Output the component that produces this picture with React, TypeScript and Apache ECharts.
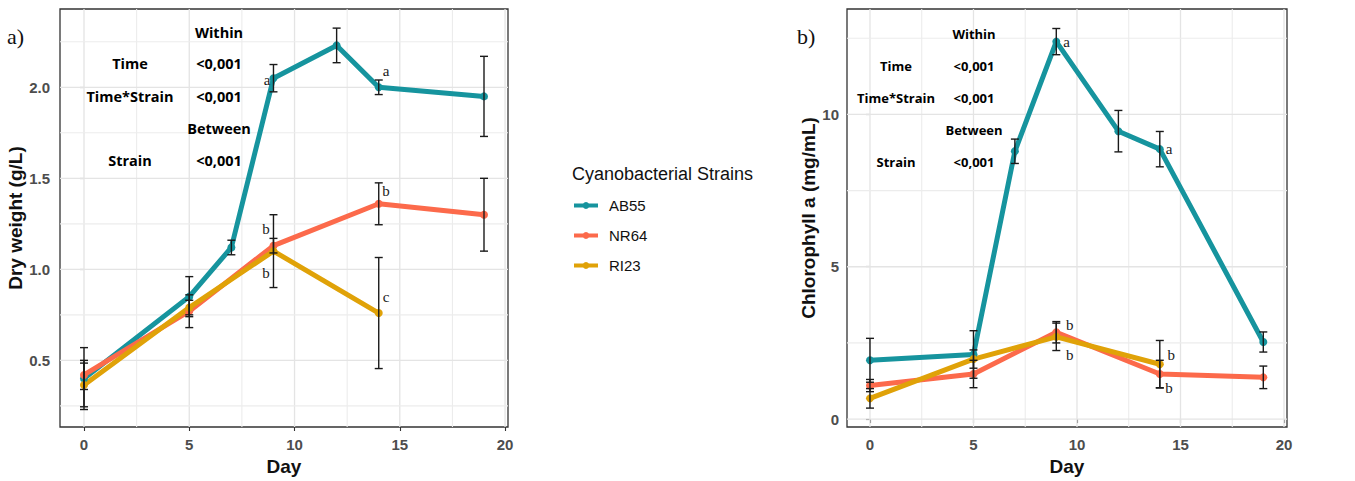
import React, { useEffect, useRef } from 'react';
import * as echarts from 'echarts';

const strainNames = ['AB55', 'NR64', 'RI23'];
const strainColors = ['#16949e', '#fc6a4b', '#e0a208'];

const daysAB55 = [0, 5, 7, 9, 12, 14, 19];
const daysNR64 = [0, 5, 9, 14, 19];
const daysRI23 = [0, 5, 9, 14];

// Panel a) Dry weight (g/L)
const dryAB55 = [0.4, 0.85, 1.12, 2.05, 2.23, 2.0, 1.95];
const dryAB55Err = [0.17, 0.11, 0.04, 0.075, 0.095, 0.04, 0.22];
const dryNR64 = [0.42, 0.77, 1.13, 1.36, 1.3];
const dryNR64Err = [0.08, 0.09, 0.04, 0.115, 0.2];
const dryRI23 = [0.365, 0.79, 1.1, 0.76];
const dryRI23Err = [0.12, 0.04, 0.2, 0.305];

// Panel b) Chlorophyll a (mg/mL)
const chlAB55 = [1.93, 2.12, 8.79, 12.39, 9.45, 8.86, 2.53];
const chlAB55Err = [0.72, 0.78, 0.4, 0.43, 0.68, 0.58, 0.33];
const chlNR64 = [1.1, 1.48, 2.85, 1.48, 1.37];
const chlNR64Err = [0.2, 0.45, 0.35, 0.45, 0.37];
const chlRI23 = [0.68, 1.97, 2.7, 1.8];
const chlRI23Err = [0.32, 0.3, 0.45, 0.78];

// Significance letters
const dryLetterDays = [8.7, 14.35, 14.35, 8.65, 8.65, 14.35];
const dryLetterValues = [2.04, 2.09, 1.43, 1.22, 0.98, 0.85];
const dryLetterTexts = ['a', 'a', 'b', 'b', 'b', 'c'];
const chlLetterDays = [9.5, 14.45, 9.65, 9.65, 14.55, 14.45];
const chlLetterValues = [12.39, 8.86, 3.1, 2.09, 2.09, 1.01];
const chlLetterTexts = ['a', 'a', 'b', 'b', 'b', 'b'];

// Ticks and grid lines
const xTickDays = [0, 5, 10, 15, 20];
const xMinorDays = [2.5, 7.5, 12.5, 17.5];
const dryTicks = [0.5, 1, 1.5, 2];
const dryMinor = [0.25, 0.75, 1.25, 1.75, 2.25];
const chlTicks = [0, 5, 10];
const chlMinor = [2.5, 7.5, 12.5];

// Statistics table
const statLabels = ['', 'Time', 'Time*Strain', '', 'Strain'];
const statValues = ['Within', '<0,001', '<0,001', 'Between', '<0,001'];

const panelTitles = ['a)', 'b)'];
const yTitles = ['Dry weight (g/L)', 'Chlorophyll a (mg/mL)'];
const legendTitle = 'Cyanobacterial Strains';

const SANS = '"Liberation Sans", Arial, sans-serif';
const LEGEND_ICON =
  'path://M0 1.5H9.13A3.5 3.5 0 0 1 14.87 1.5H24V5.5H14.87A3.5 3.5 0 0 1 9.13 5.5H0Z';

export default function App() {
  const ref = useRef<HTMLDivElement>(null);

  useEffect(() => {
    document.body.style.margin = '0';
    if (!ref.current) return;
    const chart = echarts.init(ref.current, undefined, { renderer: 'svg' });

    const panels = [
      {
        days: [daysAB55, daysNR64, daysRI23],
        vals: [dryAB55, dryNR64, dryRI23],
        errs: [dryAB55Err, dryNR64Err, dryRI23Err],
        lDays: dryLetterDays, lVals: dryLetterValues, lTexts: dryLetterTexts,
        yTicks: dryTicks, yMinor: dryMinor,
        xMin: -1.14, xMax: 20.14, yMin: 0.134, yMax: 2.43,
        fmt: (v: number) => v.toFixed(1),
        grid: { left: 60, top: 9, width: 448, height: 420 },
        nameGap: 32,
      },
      {
        days: [daysAB55, daysNR64, daysRI23],
        vals: [chlAB55, chlNR64, chlRI23],
        errs: [chlAB55Err, chlNR64Err, chlRI23Err],
        lDays: chlLetterDays, lVals: chlLetterValues, lTexts: chlLetterTexts,
        yTicks: chlTicks, yMinor: chlMinor,
        xMin: -1.11, xMax: 20.145, yMin: -0.26, yMax: 13.46,
        fmt: (v: number) => String(v),
        grid: { left: 847, top: 9, width: 440, height: 420 },
        nameGap: 28,
      },
    ];

    const grids: any[] = [];
    const xAxes: any[] = [];
    const yAxes: any[] = [];
    const series: any[] = [];

    panels.forEach((p, pi) => {
      grids.push({
        ...p.grid,
        show: true,
        borderColor: '#333',
        borderWidth: 1.3,
        backgroundColor: '#fff',
        containLabel: false,
      });
      xAxes.push({
        type: 'value',
        gridIndex: pi,
        min: p.xMin,
        max: p.xMax,
        axisLine: { show: false },
        splitLine: { show: false },
        axisTick: { show: true, customValues: xTickDays, length: 4, lineStyle: { color: '#333', width: 1.1 } },
        axisLabel: {
          customValues: xTickDays,
          margin: 10,
          color: '#4d4d4d',
          fontSize: 15,
          fontWeight: 'bold',
          fontFamily: SANS,
        },
        name: 'Day',
        nameLocation: 'middle',
        nameGap: 30,
        nameTextStyle: { fontSize: 19, fontWeight: 'bold', color: '#111', fontFamily: SANS },
      });
      yAxes.push({
        type: 'value',
        gridIndex: pi,
        min: p.yMin,
        max: p.yMax,
        axisLine: { show: false },
        splitLine: { show: false },
        axisTick: { show: true, customValues: p.yTicks, length: 4, lineStyle: { color: '#333', width: 1.1 } },
        axisLabel: {
          customValues: p.yTicks,
          formatter: p.fmt,
          margin: pi === 0 ? 10 : 8,
          color: '#4d4d4d',
          fontSize: 15,
          fontWeight: 'bold',
          fontFamily: SANS,
        },
        name: yTitles[pi],
        nameLocation: 'middle',
        nameGap: p.nameGap,
        nameTextStyle: { fontSize: 19, fontWeight: 'bold', color: '#111', fontFamily: SANS },
      });

      // grid lines
      const gridData: number[][] = [
        ...xTickDays.map((v) => [v, 0, 1]),
        ...xMinorDays.map((v) => [v, 0, 0]),
        ...p.yTicks.map((v) => [v, 1, 1]),
        ...p.yMinor.map((v) => [v, 1, 0]),
      ];
      series.push({
        type: 'custom',
        xAxisIndex: pi,
        yAxisIndex: pi,
        silent: true,
        z: 1,
        data: gridData,
        encode: { x: 0, y: 1 },
        renderItem: (params: any, api: any) => {
          const v = api.value(0);
          const kind = api.value(1);
          const major = api.value(2);
          const cs = params.coordSys;
          const pt = api.coord([v, v]);
          const style = { stroke: major ? '#e4e4e4' : '#ececec', lineWidth: major ? 1.3 : 1.1 };
          if (kind === 0) {
            return { type: 'line', shape: { x1: pt[0], y1: cs.y, x2: pt[0], y2: cs.y + cs.height }, style };
          }
          return { type: 'line', shape: { x1: cs.x, y1: pt[1], x2: cs.x + cs.width, y2: pt[1] }, style };
        },
      });

      // lines
      strainNames.forEach((name, si) => {
        series.push({
          name,
          type: 'line',
          xAxisIndex: pi,
          yAxisIndex: pi,
          z: 3,
          data: p.days[si].map((d, i) => [d, p.vals[si][i]]),
          symbol: 'circle',
          symbolSize: 8,
          showSymbol: true,
          lineStyle: { width: 5, color: strainColors[si] },
          itemStyle: { color: strainColors[si] },
        });
      });

      // error bars
      const errData: number[][] = [];
      strainNames.forEach((_, si) => {
        p.days[si].forEach((d, i) => errData.push([d, p.vals[si][i], p.errs[si][i]]));
      });
      series.push({
        type: 'custom',
        xAxisIndex: pi,
        yAxisIndex: pi,
        silent: true,
        z: 5,
        data: errData,
        encode: { x: 0, y: 1 },
        renderItem: (params: any, api: any) => {
          const x = api.value(0);
          const m = api.value(1);
          const e = api.value(2);
          const top = api.coord([x, m + e]);
          const bot = api.coord([x, m - e]);
          const w = 4;
          const style = { stroke: '#1a1a1a', lineWidth: 1.4 };
          return {
            type: 'group',
            children: [
              { type: 'line', shape: { x1: top[0], y1: top[1], x2: bot[0], y2: bot[1] }, style },
              { type: 'line', shape: { x1: top[0] - w, y1: top[1], x2: top[0] + w, y2: top[1] }, style },
              { type: 'line', shape: { x1: bot[0] - w, y1: bot[1], x2: bot[0] + w, y2: bot[1] }, style },
            ],
          };
        },
      });

      // letters
      series.push({
        type: 'custom',
        xAxisIndex: pi,
        yAxisIndex: pi,
        silent: true,
        z: 6,
        data: p.lDays.map((d, i) => [d, p.lVals[i]]),
        encode: { x: 0, y: 1 },
        renderItem: (params: any, api: any) => {
          const pt = api.coord([api.value(0), api.value(1)]);
          return {
            type: 'text',
            x: pt[0],
            y: pt[1],
            style: {
              text: p.lTexts[params.dataIndex],
              fill: '#1a1a1a',
              fontSize: 15,
              fontFamily: '"Liberation Serif", "DejaVu Serif", serif',
              align: 'center',
              verticalAlign: 'middle',
            },
          };
        },
      });
    });

    const statCols = [
      { label: 130, value: 219, rows: [32, 63, 96, 128, 160], font: 'bold 14.5px "Open Sans", sans-serif' },
      { label: 896, value: 974, rows: [34, 66, 98, 130, 162], font: 'bold 13px "Open Sans", sans-serif' },
    ];
    const graphics: any[] = [];
    statCols.forEach((c) => {
      c.rows.forEach((y, ri) => {
        if (statLabels[ri]) {
          graphics.push({
            type: 'text', x: c.label, y, z: 10,
            style: { text: statLabels[ri], fill: '#000', font: c.font, align: 'center', verticalAlign: 'middle' },
          });
        }
        graphics.push({
          type: 'text', x: c.value, y, z: 10,
          style: { text: statValues[ri], fill: '#000', font: c.font, align: 'center', verticalAlign: 'middle' },
        });
      });
    });
    graphics.push({
      type: 'text', x: 7, y: 36,
      style: { text: panelTitles[0], fill: '#111', font: '22px "Liberation Serif", serif', align: 'left', verticalAlign: 'middle' },
    });
    graphics.push({
      type: 'text', x: 797, y: 36,
      style: { text: panelTitles[1], fill: '#111', font: '22px "Liberation Serif", serif', align: 'left', verticalAlign: 'middle' },
    });
    graphics.push({
      type: 'text', x: 572, y: 174,
      style: { text: legendTitle, fill: '#111', font: '18px "Liberation Sans", Arial, sans-serif', align: 'left', verticalAlign: 'middle' },
    });

    chart.setOption({
      animation: false,
      backgroundColor: '#fff',
      grid: grids,
      xAxis: xAxes,
      yAxis: yAxes,
      series,
      graphic: graphics,
      legend: {
        data: strainNames.map((n) => ({ name: n, icon: LEGEND_ICON })),
        orient: 'vertical',
        left: 574,
        top: 198,
        padding: 0,
        itemWidth: 24,
        itemHeight: 7,
        itemGap: 15,
        selectedMode: false,
        textStyle: { fontSize: 15, lineHeight: 14, color: '#111', fontFamily: SANS, padding: [0, 0, 0, 6] },
      },
    });

    return () => {
      chart.dispose();
    };
  }, []);

  return <div ref={ref} style={{ position: 'absolute', left: 0, top: 0, width: 1355, height: 481 }} />;
}
